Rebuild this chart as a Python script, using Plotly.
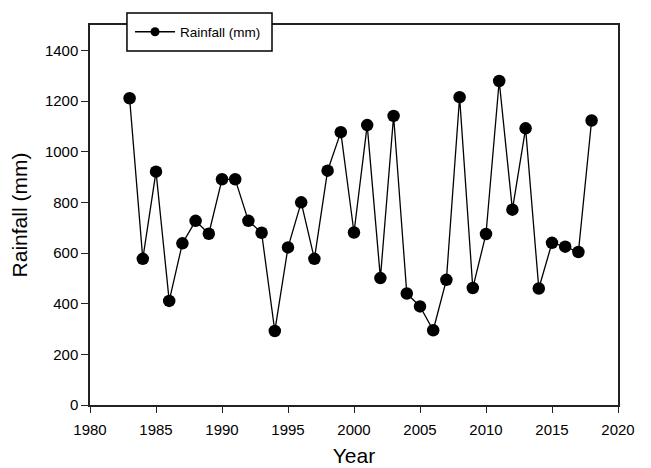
import plotly.graph_objects as go

years = list(range(1983, 2019))
rainfall = [1211, 577, 921, 411, 638, 727, 676, 891, 891, 727, 680, 292,
            622, 800, 577, 925, 1077, 681, 1105, 501, 1141, 440, 389, 295,
            494, 1215, 462, 675, 1279, 771, 1092, 460, 640, 625, 604, 1123]
series_name = "Rainfall (mm)"

fig = go.Figure()
fig.add_trace(go.Scatter(
    x=years, y=rainfall, name=series_name, mode="lines+markers",
    line=dict(color="black", width=1.3),
    marker=dict(color="black", size=12.5),
    showlegend=False,
))
# legend-only entry with a smaller symbol, like the original
fig.add_trace(go.Scatter(
    x=[None], y=[None], name=series_name, mode="lines+markers",
    line=dict(color="black", width=1.3),
    marker=dict(color="black", size=9),
    showlegend=True,
))

font = "Liberation Sans, Arial, sans-serif"
fig.add_shape(type="rect", xref="paper", yref="paper",
              x0=0.070, x1=0.3447, y0=0.9316, y1=1.0316,
              line=dict(color="black", width=1.5), fillcolor="white", layer="above")
fig.update_layout(
    width=651, height=468,
    margin=dict(l=90, r=33, t=25, b=63),
    paper_bgcolor="white", plot_bgcolor="white",
    font=dict(family=font, color="black", size=15),
    showlegend=True,
    legend=dict(x=0.0758, y=0.9816, xanchor="left", yanchor="middle",
                bgcolor="rgba(0,0,0,0)", borderwidth=0,
                font=dict(size=13.5), itemwidth=40),
    xaxis=dict(range=[1980, 2020], tick0=1980, dtick=5, automargin=False,
               showline=True, linecolor="#222", linewidth=1.5, mirror=True,
               ticks="outside", ticklen=6, tickcolor="#222", showgrid=False,
               zeroline=False, ticklabelstandoff=4,
               title=dict(text="Year", font=dict(size=21), standoff=12)),
    yaxis=dict(range=[0, 1500], tickvals=list(range(0, 1401, 200)), automargin=False,
               showline=True, linecolor="#222", linewidth=1.5, mirror=True,
               ticks="outside", ticklen=7, tickcolor="#222", showgrid=False,
               zeroline=False,
               title=dict(text="Rainfall (mm)", font=dict(size=21), standoff=12)),
)
fig.write_html("out.html", config={"displayModeBar": False},
               post_script="document.body.style.margin='0';")
